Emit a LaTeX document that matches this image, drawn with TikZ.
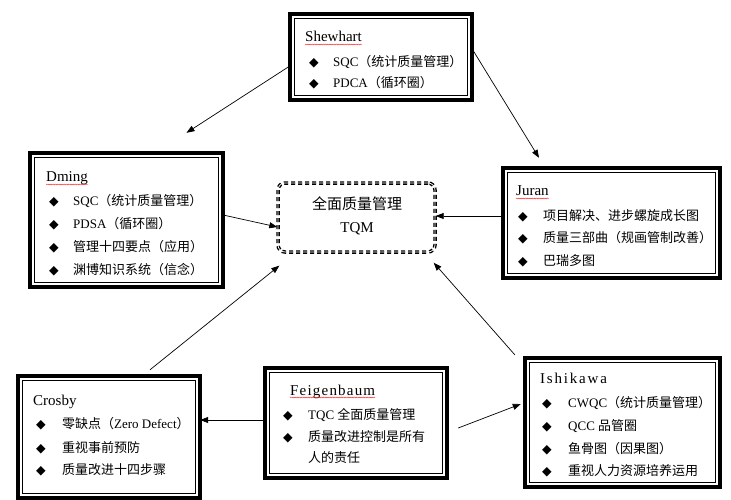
\documentclass[tikz,border=0pt]{standalone}
\usepackage{fontspec}
\setmainfont{Liberation Serif}
\newfontfamily\cjkf{Noto Sans CJK SC}
\newfontfamily\symf{DejaVu Sans}
\usetikzlibrary{arrows.meta,decorations.pathmorphing}
\newcommand\C[1]{{\cjkf #1}}
\newcommand\Title[4]{\node[ttl] (#1) at (#2,#3) {#4};}
\newcommand\Item[5]{\node[bul] (#1b) at (#2,#3) {◆}; \node[txt] (#1) at (#4,#3) {#5};}
\newcommand\Frame[1]{%
  \draw[line width=3.5pt] (#1.north west) rectangle (#1.south east);
  \draw[line width=0.8pt] ([xshift=4.5pt,yshift=-4.5pt]#1.north west) rectangle ([xshift=-4.5pt,yshift=4.5pt]#1.south east);}
\tikzset{
  ttl/.style={anchor=base west, inner sep=0pt, font=\fontsize{15}{17}\selectfont},
  bul/.style={anchor=base west, inner sep=0pt, font=\symf\fontsize{12.5}{14}\selectfont},
  txt/.style={anchor=base west, inner sep=0pt, font=\fontsize{13}{15}\selectfont},
  boxarea/.style={draw=none, inner sep=0pt},
  spell/.style={red, line width=0.35pt, decorate, decoration={snake, amplitude=0.5pt, segment length=2.2pt}},
  arr/.style={-{Triangle[length=8pt,width=6pt]}, line width=0.7pt},
  tqmbox/.style={draw, rounded corners=7pt, line width=1.4pt, double=white, double distance=0.7pt, dash pattern=on 4pt off 3pt, inner sep=0pt, minimum width=157pt, minimum height=69pt},
  tqmtxt/.style={anchor=base, inner sep=0pt}
}
\begin{document}
\begin{tikzpicture}[x=1pt,y=-1pt]
\useasboundingbox (0,0) rectangle (731,500);
\fill[white] (0,0) rectangle (731,500);

% box areas
\node[boxarea, minimum width=182pt, minimum height=86pt] (shew) at (381,57) {};
\node[boxarea, minimum width=193pt, minimum height=134pt] (dming) at (126.5,220) {};
\node[boxarea, minimum width=217pt, minimum height=110pt] (juran) at (611.5,223) {};
\node[boxarea, minimum width=182pt, minimum height=122pt] (crosby) at (109,437) {};
\node[boxarea, minimum width=182pt, minimum height=110pt] (feig) at (356,423) {};
\node[boxarea, minimum width=195pt, minimum height=129pt] (ishi) at (622.5,422.5) {};
\Frame{shew}\Frame{dming}\Frame{juran}\Frame{crosby}\Frame{feig}\Frame{ishi}

% center
\node[tqmbox] (tqm) at (356.5,217.5) {};
\node[tqmtxt, font=\cjkf\fontsize{15}{17}\selectfont] (tqm1) at (357,209) {全面质量管理};
\node[tqmtxt, font=\fontsize{15}{17}\selectfont] (tqm2) at (357,232) {TQM};

% Shewhart
\Title{shewT}{305}{42}{Shewhart}
\Item{shew1}{309}{67}{333}{SQC\C{（统计质量管理）}}
\Item{shew2}{309}{88}{333}{PDCA\C{（循环圈）}}
\draw[spell] ([yshift=-2.5pt]shewT.base west) -- ([yshift=-2.5pt]shewT.base east);

% Dming
\Title{dmingT}{46}{182}{Dming}
\Item{dming1}{49}{205}{73}{SQC\C{（统计质量管理）}}
\Item{dming2}{49}{228}{73}{PDSA\C{（循环圈）}}
\Item{dming3}{49}{251}{73}{\C{管理十四要点（应用）}}
\Item{dming4}{49}{274}{73}{\C{渊博知识系统（信念）}}
\draw[spell] ([yshift=-2.5pt]dmingT.base west) -- ([yshift=-2.5pt]dmingT.base east);

% Juran
\Title{juranT}{516}{196}{Juran}
\Item{juran1}{518}{220}{543}{\C{项目解决、进步螺旋成长图}}
\Item{juran2}{518}{242}{543}{\C{质量三部曲（规画管制改善）}}
\Item{juran3}{518}{265}{543}{\C{巴瑞多图}}
\draw[spell] ([yshift=-2.5pt]juranT.base west) -- ([yshift=-2.5pt]juranT.base east);

% Crosby
\Title{crosbyT}{33}{405}{Crosby}
\Item{crosby1}{36}{428}{62}{\C{零缺点（}Zero Defect\C{）}}
\Item{crosby2}{36}{452}{62}{\C{重视事前预防}}
\Item{crosby3}{36}{474}{62}{\C{质量改进十四步骤}}

% Feigenbaum
\Title{feigT}{290}{395}{\addfontfeature{LetterSpace=8}Feigenbaum}
\Item{feig1}{283}{419}{308}{TQC \C{全面质量管理}}
\Item{feig2}{283}{441}{308}{\C{质量改进控制是所有}}
\node[txt] (feig3) at (308,462) {\C{人的责任}};
\draw[spell] ([yshift=-2.5pt]feigT.base west) -- ([yshift=-2.5pt]feigT.base east);

% Ishikawa
\Title{ishiT}{540}{383}{\addfontfeature{LetterSpace=12}Ishikawa}
\Item{ishi1}{542}{407}{568}{CWQC\C{（统计质量管理）}}
\Item{ishi2}{542}{430}{568}{QCC \C{品管圈}}
\Item{ishi3}{542}{453}{568}{\C{鱼骨图（因果图）}}
\Item{ishi4}{542}{475}{568}{\C{重视人力资源培养运用}}

% connectors
\draw[arr] ([yshift=-9pt]shew.west) -- ([xshift=60pt,yshift=20pt]dming.north);
\draw[arr] ([yshift=8pt]shew.east) -- ([xshift=-72.5pt,yshift=10pt]juran.north);
\draw[arr] ([yshift=5pt]dming.east) -- ([yshift=-9.5pt]tqm.west);
\draw[arr] ([yshift=7pt]juran.west) -- ([yshift=1.5pt]tqm.east);
\draw[arr] ([xshift=41pt,yshift=6pt]crosby.north) -- ([xshift=2pt,yshift=-13pt]tqm.south west);
\draw[arr] ([xshift=-10pt,yshift=3pt]ishi.north west) -- ([xshift=-2pt,yshift=-10pt]tqm.south east);
\draw[arr] ([yshift=3pt]feig.west) -- ([yshift=17pt]crosby.east);
\draw[arr] ([xshift=11pt,yshift=-5pt]feig.east) -- ([xshift=-4pt,yshift=18.5pt]ishi.west);
\end{tikzpicture}
\end{document}
